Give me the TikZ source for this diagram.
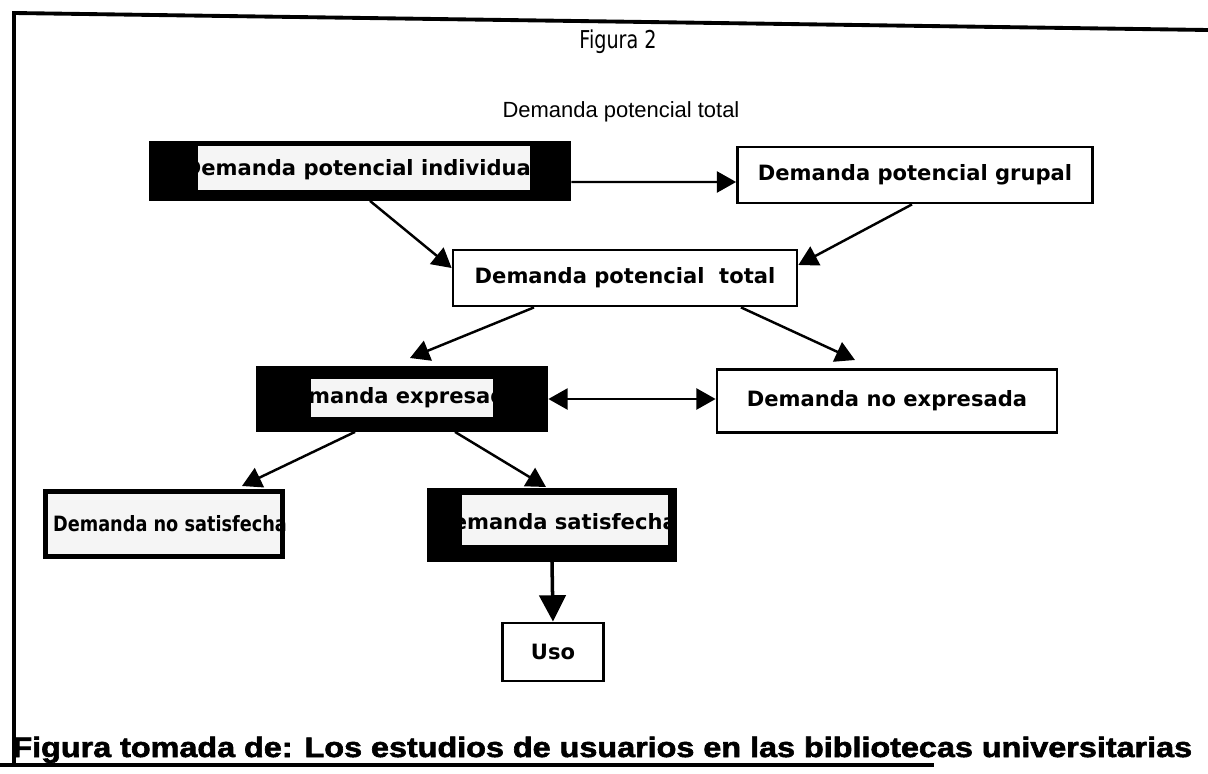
\documentclass[tikz,border=0pt]{standalone}
\usepackage{fontspec}
\setmainfont{DejaVu Sans}
\newfontfamily\headfont{Liberation Sans}
\newfontfamily\footfont{Liberation Sans}[BoldFeatures={FakeBold=2}]
\usetikzlibrary{arrows.meta}

\begin{document}
\begin{tikzpicture}[x=0.02cm, y=-0.02cm,
    boxtext/.style={font=\bfseries\fontsize{12}{14}\selectfont, inner sep=0pt},
    whitebox/.style={draw, line width=1.6pt, fill=white, boxtext},
    darkbox/.style={draw, line width=1.6pt, fill=black},
    lightbox/.style={fill=gray!8, inner sep=0pt},
    arr/.style={-{Triangle[length=11pt,width=12pt]}, line width=1.4pt},
    biarr/.style={{Triangle[length=11pt,width=12pt]}-{Triangle[length=11pt,width=12pt]}, line width=1.4pt}]
    \useasboundingbox (0,0) rectangle (1208,774);

    % Frame
    \draw[line width=2.2pt] (1208,30) -- (14,13) -- (14,764);
    \draw[line width=2.2pt] (0,765) -- (934,765);

    % Titles
    \node[font=\fontsize{14}{16}\selectfont, xscale=0.78] (fig) at (618,42) {Figura 2};
    \node[font=\headfont\fontsize{12.5}{14}\selectfont] (head) at (621,112) {Demanda potencial total};

    % Upper level
    \node[darkbox, minimum width=8.4cm, minimum height=1.14cm] (ind) at (360,171) {};
    \node[lightbox, minimum width=6.64cm, minimum height=0.9cm] (indl) at (364,168) {};
    \node[boxtext] (indt) at (361,170) {Demanda potencial individual};
    \node[whitebox, minimum width=7.1cm, minimum height=1.12cm] (grp) at (915,175) {Demanda potencial grupal};
    \node[whitebox, minimum width=6.88cm, minimum height=1.12cm] (tot) at (625,278) {Demanda potencial \ total};

    % Middle level
    \node[darkbox, minimum width=5.8cm, minimum height=1.26cm] (exp) at (402,399) {};
    \node[lightbox, minimum width=3.66cm, minimum height=0.76cm] (expl) at (402,398) {};
    \node[boxtext] (expt) at (398,398) {Demanda expresada};
    \node[whitebox, minimum width=6.8cm, minimum height=1.26cm] (noexp) at (887,401) {Demanda no expresada};

    % Lower level
    \node[darkbox, line width=1pt, minimum width=4.8cm, minimum height=1.36cm] (nosat) at (164,524) {};
    \node[lightbox, minimum width=4.64cm, minimum height=1.2cm] (nosatl) at (164,524) {};
    \node[boxtext, xscale=0.84] (nosatt) at (170,524) {Demanda no satisfecha};
    \node[darkbox, minimum width=4.96cm, minimum height=1.42cm] (sat) at (552,525) {};
    \node[lightbox, minimum width=4.12cm, minimum height=1.0cm] (satl) at (565,520) {};
    \node[boxtext] (satt) at (556,522) {Demanda satisfecha};
    \node[whitebox, minimum width=2.02cm, minimum height=1.16cm] (uso) at (553,652) {Uso};

    % Free arrow ends
    \coordinate (expTip) at (410,358);
    \coordinate (noexpTip) at (855,360);
    \coordinate (nosatTip) at (242,486);
    \coordinate (satTip) at (546,487);

    % Connectors
    \draw[arr] ([yshift=-0.22cm]ind.east) -- ([yshift=-0.14cm]grp.west);
    \draw[arr] ([xshift=0.2cm]ind.south) -- ([yshift=0.2cm]tot.west);
    \draw[arr] ([xshift=-0.06cm]grp.south) -- ([yshift=0.26cm]tot.east);
    \draw[arr] ([xshift=-1.82cm]tot.south) -- (expTip);
    \draw[arr] ([xshift=2.32cm]tot.south) -- (noexpTip);
    \draw[biarr] (exp.east) -- (exp.east -| noexp.west);
    \draw[arr] ([xshift=-0.94cm]exp.south) -- (nosatTip);
    \draw[arr] ([xshift=1.06cm]exp.south) -- (satTip);
    \draw[-{Triangle[length=15pt,width=15pt]}, line width=2pt] (sat.south) -- (uso.north);

    % Source
    \node[font=\footfont\bfseries\fontsize{16}{18}\selectfont, xscale=1.15, anchor=base west, inner sep=0pt] (src) at (12,757)
        {Figura tomada de: Los estudios de usuarios en las bibliotecas universitarias};
\end{tikzpicture}
\end{document}
